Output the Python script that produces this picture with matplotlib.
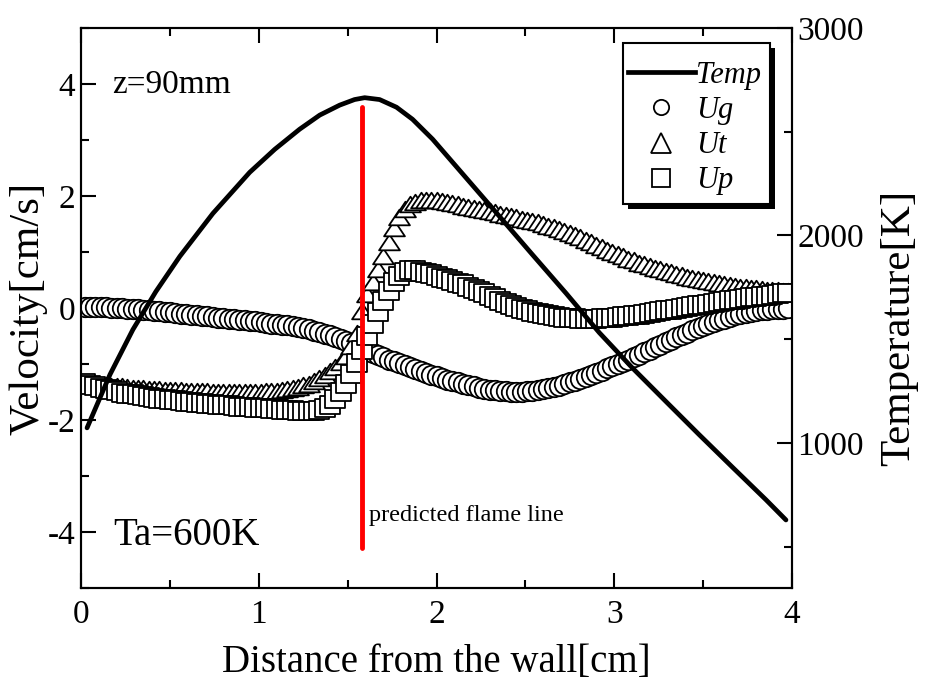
import matplotlib
matplotlib.use('Agg')
import matplotlib.pyplot as plt
from matplotlib.lines import Line2D
from matplotlib.patches import Rectangle
from matplotlib.path import Path
from matplotlib.ticker import MultipleLocator

plt.rcParams['font.family'] = 'Liberation Serif'
plt.rcParams['axes.unicode_minus'] = False

# ---------------- data ----------------
x_pts = [0.02, 0.05, 0.08, 0.11, 0.14, 0.17, 0.20, 0.23, 0.26, 0.29,
         0.32, 0.35, 0.38, 0.41, 0.44, 0.47, 0.50, 0.53, 0.56, 0.59,
         0.62, 0.65, 0.68, 0.71, 0.74, 0.77, 0.80, 0.83, 0.86, 0.89,
         0.92, 0.95, 0.98, 1.01, 1.04, 1.07, 1.10, 1.13, 1.16, 1.19,
         1.22, 1.25, 1.28, 1.31, 1.34, 1.37, 1.40, 1.43, 1.46, 1.49,
         1.52, 1.55, 1.58, 1.61, 1.64, 1.67, 1.70, 1.73, 1.76, 1.79,
         1.82, 1.85, 1.88, 1.91, 1.94, 1.97, 2.00, 2.03, 2.06, 2.09,
         2.12, 2.15, 2.18, 2.21, 2.24, 2.27, 2.30, 2.33, 2.36, 2.39,
         2.42, 2.45, 2.48, 2.51, 2.54, 2.57, 2.60, 2.63, 2.66, 2.69,
         2.72, 2.75, 2.78, 2.81, 2.84, 2.87, 2.90, 2.93, 2.96, 2.99,
         3.02, 3.05, 3.08, 3.11, 3.14, 3.17, 3.20, 3.23, 3.26, 3.29,
         3.32, 3.35, 3.38, 3.41, 3.44, 3.47, 3.50, 3.53, 3.56, 3.59,
         3.62, 3.65, 3.68, 3.71, 3.74, 3.77, 3.80, 3.83, 3.86, 3.89,
         3.92, 3.95, 3.98]

ug = [0.02, 0.02, 0.02, 0.01, 0.01, 0.00, 0.00, 0.00, -0.01, -0.02,
      -0.02, -0.03, -0.04, -0.05, -0.06, -0.07, -0.08, -0.09, -0.10, -0.11,
      -0.12, -0.13, -0.14, -0.15, -0.16, -0.17, -0.18, -0.19, -0.20, -0.21,
      -0.22, -0.23, -0.24, -0.25, -0.27, -0.28, -0.29, -0.30, -0.31, -0.33,
      -0.34, -0.36, -0.38, -0.41, -0.43, -0.46, -0.49, -0.52, -0.55, -0.59,
      -0.63, -0.67, -0.72, -0.76, -0.80, -0.84, -0.88, -0.92, -0.95, -0.99,
      -1.02, -1.06, -1.09, -1.12, -1.16, -1.19, -1.22, -1.25, -1.28, -1.31,
      -1.33, -1.36, -1.38, -1.40, -1.42, -1.44, -1.46, -1.47, -1.48, -1.49,
      -1.50, -1.50, -1.50, -1.49, -1.48, -1.47, -1.45, -1.43, -1.41, -1.39,
      -1.36, -1.33, -1.30, -1.27, -1.23, -1.20, -1.16, -1.12, -1.08, -1.04,
      -1.00, -0.96, -0.92, -0.88, -0.84, -0.79, -0.75, -0.70, -0.66, -0.61,
      -0.57, -0.52, -0.48, -0.44, -0.40, -0.36, -0.32, -0.28, -0.25, -0.22,
      -0.19, -0.16, -0.13, -0.11, -0.09, -0.07, -0.06, -0.04, -0.03, -0.02,
      -0.01, -0.01, 0.00]

ut = [-1.35, -1.36, -1.36, -1.37, -1.38, -1.39, -1.39, -1.40, -1.41, -1.42,
      -1.42, -1.43, -1.44, -1.45, -1.45, -1.46, -1.46, -1.47, -1.47, -1.48,
      -1.48, -1.49, -1.49, -1.49, -1.50, -1.50, -1.50, -1.50, -1.50, -1.50,
      -1.50, -1.50, -1.50, -1.50, -1.49, -1.49, -1.48, -1.47, -1.45, -1.43,
      -1.41, -1.38, -1.35, -1.30, -1.25, -1.19, -1.12, -1.05, -0.96, -0.85,
      -0.68, -0.45, -0.05, 0.25, 0.47, 0.70, 0.92, 1.18, 1.42, 1.62,
      1.76, 1.85, 1.90, 1.92, 1.93, 1.93, 1.92, 1.91, 1.89, 1.87,
      1.85, 1.83, 1.81, 1.79, 1.77, 1.75, 1.73, 1.71, 1.68, 1.66,
      1.64, 1.62, 1.59, 1.57, 1.55, 1.53, 1.50, 1.47, 1.44, 1.41,
      1.38, 1.34, 1.30, 1.26, 1.22, 1.18, 1.13, 1.09, 1.04, 1.00,
      0.96, 0.92, 0.88, 0.85, 0.81, 0.78, 0.75, 0.72, 0.69, 0.66,
      0.64, 0.61, 0.59, 0.56, 0.54, 0.52, 0.50, 0.48, 0.46, 0.44,
      0.43, 0.41, 0.40, 0.38, 0.37, 0.36, 0.35, 0.34, 0.33, 0.32,
      0.32, 0.31, 0.30]

up = [-1.34, -1.37, -1.40, -1.43, -1.45, -1.47, -1.49, -1.51, -1.53, -1.54,
      -1.56, -1.57, -1.59, -1.60, -1.62, -1.63, -1.64, -1.65, -1.66, -1.67,
      -1.68, -1.69, -1.70, -1.71, -1.72, -1.73, -1.73, -1.74, -1.75, -1.76,
      -1.76, -1.77, -1.78, -1.79, -1.79, -1.80, -1.81, -1.82, -1.82, -1.83,
      -1.84, -1.84, -1.84, -1.84, -1.82, -1.79, -1.73, -1.63, -1.50, -1.35,
      -1.17, -0.98, -0.75, -0.50, -0.28, -0.08, 0.12, 0.31, 0.47, 0.58,
      0.65, 0.68, 0.67, 0.65, 0.63, 0.60, 0.57, 0.54, 0.51, 0.48,
      0.45, 0.42, 0.38, 0.34, 0.30, 0.26, 0.21, 0.17, 0.13, 0.09,
      0.05, 0.02, -0.01, -0.04, -0.07, -0.09, -0.11, -0.13, -0.15, -0.16,
      -0.17, -0.18, -0.18, -0.19, -0.19, -0.19, -0.19, -0.18, -0.18, -0.17,
      -0.16, -0.15, -0.14, -0.13, -0.12, -0.10, -0.09, -0.07, -0.06, -0.04,
      -0.03, -0.01, 0.00, 0.02, 0.03, 0.05, 0.06, 0.08, 0.09, 0.11,
      0.12, 0.14, 0.15, 0.16, 0.17, 0.19, 0.20, 0.21, 0.22, 0.24,
      0.25, 0.26, 0.27]

temp_x = [0.034, 0.163, 0.292, 0.421, 0.556, 0.742, 0.949, 1.090, 1.230,
          1.343, 1.455, 1.539, 1.596, 1.680, 1.775, 1.865, 1.978, 2.169,
          2.354, 2.539, 2.730, 2.916, 3.101, 3.292, 3.478, 3.663, 3.854,
          3.966]
temp_k = [1072, 1329, 1546, 1729, 1899, 2106, 2304, 2415, 2512,
          2580, 2628, 2655, 2664, 2655, 2618, 2560, 2464, 2275,
          2092, 1908, 1720, 1531, 1362, 1198, 1039, 884, 725,
          628]

flame_x = [1.58, 1.58]
flame_v = [3.59, -4.29]

legend_labels = ['Temp', 'Ug', 'Ut', 'Up']

# ---------------- figure ----------------
W, H = 927, 684
fig = plt.figure(figsize=(W / 100, H / 100), dpi=100)
ax = fig.add_axes([81 / W, 1 - 588 / H, 711 / W, 560 / H])
ax2 = ax.twinx()

tri_marker = Path([(-1, -0.75), (1, -0.75), (0, 0.75), (-1, -0.75)], closed=True)
sq_marker = Path([(-1, -0.9), (1, -0.9), (1, 0.9), (-1, 0.9), (-1, -0.9)], closed=True)

mk = dict(mfc='white', mec='black', mew=1.3, ls='none')
ax.plot(x_pts, ug, marker='o', ms=14, zorder=3, **mk)
ax.plot(x_pts, ut, marker=tri_marker, ms=15, zorder=3, **mk)
ax.plot(x_pts, up, marker=sq_marker, ms=14, zorder=3, **mk)

ax2.plot(temp_x, temp_k, color='black', lw=3.4, solid_capstyle='round',
         solid_joinstyle='round', zorder=3)
ax2.plot(flame_x, flame_v, color='#ff0000', lw=3.5, solid_capstyle='round',
         transform=ax.transData, zorder=4)

ax.set_xlim(0, 4)
ax.set_ylim(-5, 5)
ax2.set_ylim(300, 3000)

ax.xaxis.set_major_locator(MultipleLocator(1))
ax.xaxis.set_minor_locator(MultipleLocator(0.5))
ax.yaxis.set_major_locator(MultipleLocator(2))
ax.yaxis.set_minor_locator(MultipleLocator(1))
ax2.yaxis.set_major_locator(MultipleLocator(1000))
ax2.yaxis.set_minor_locator(MultipleLocator(500))

ax.tick_params(axis='both', which='major', direction='in', length=11, width=1.5,
               labelsize=24, top=True, right=False)
ax.tick_params(axis='both', which='minor', direction='in', length=6, width=1.5,
               top=True, right=False)
ax.tick_params(axis='x', pad=8)
ax.tick_params(axis='y', pad=4)
ax2.tick_params(axis='y', which='major', direction='in', length=11, width=1.5,
                labelsize=24, pad=4)
ax2.tick_params(axis='y', which='minor', direction='in', length=6, width=1.5)

for a in (ax, ax2):
    for s in a.spines.values():
        s.set_linewidth(1.5)

ax.set_xlabel('Distance from the wall[cm]', fontsize=28, labelpad=10.5)
ax.set_ylabel('Velocity[cm/s]', fontsize=31, labelpad=0)
ax2.set_ylabel('Temperature[K]', fontsize=31)
ax2.yaxis.set_label_coords((880 - 81) / 711, (588 - 328) / 560)

ax.text(0.174, 3.98, 'z=90mm', fontsize=24, va='center', ha='left')
ax.text(0.18, -4.07, 'Ta=600K', fontsize=28, va='center', ha='left')
ax.text(1.62, -3.70, 'predicted flame line', fontsize=17.5, va='center', ha='left')

# legend box with black drop shadow
box_x0, box_y0, box_x1, box_y1 = 623, 43, 770, 204
shadow = Rectangle(((box_x0 + 5) / W, 1 - (box_y1 + 5) / H),
                   (box_x1 - box_x0) / W, (box_y1 - box_y0) / H,
                   transform=fig.transFigure, facecolor='black', edgecolor='none',
                   zorder=8, clip_on=False)
frame = Rectangle((box_x0 / W, 1 - box_y1 / H),
                  (box_x1 - box_x0) / W, (box_y1 - box_y0) / H,
                  transform=fig.transFigure, facecolor='white', edgecolor='black',
                  linewidth=1.5, zorder=9, clip_on=False)
ax2.add_artist(shadow)
ax2.add_artist(frame)

handles = [Line2D([], [], color='black', lw=3.4),
           Line2D([], [], marker='o', ms=11, **mk),
           Line2D([], [], marker='^', ms=14, **mk),
           Line2D([], [], marker='s', ms=13, **mk)]
leg = ax2.legend(handles, legend_labels, loc='upper left',
                 bbox_to_anchor=(628 / W, 1 - 61 / H),
                 bbox_transform=fig.transFigure, borderaxespad=0, borderpad=0,
                 prop={'style': 'italic', 'size': 22, 'family': 'Liberation Serif'},
                 handlelength=2.19, handletextpad=0.05, labelspacing=0.2,
                 frameon=False)
leg.set_zorder(10)

fig.savefig('out.png', dpi=100)
